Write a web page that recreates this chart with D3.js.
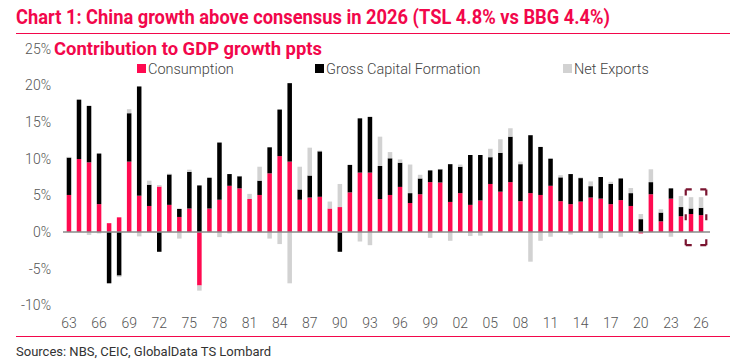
<!DOCTYPE html>
<html>
<head>
<meta charset="utf-8">
<script src="https://cdn.jsdelivr.net/npm/d3@7"></script>
<style>
  body { margin: 0; background: #fff; }
  svg { display: block; font-family: Roboto, "Noto Sans", sans-serif; }
</style>
</head>
<body>
<div id="chart"></div>
<script>
// contribution to GDP growth, ppts, 1963-2026
const years = d3.range(1963, 2027);
const consumption = [5.05, 9.95, 9.5, 3.8, 1.2, 2.0, 9.6, 4.95, 3.55, 6.2,
  3.7, 2.05, 3.2, -7.3, 3.2, 4.4, 6.3, 5.95, 4.5, 5.05,
  8.0, 10.35, 9.6, 4.4, 4.7, 4.8, 3.2, 3.4, 5.4, 8.1,
  8.1, 4.5, 5.05, 6.15, 3.95, 5.15, 6.8, 6.75, 4.1, 5.3,
  3.7, 4.3, 6.55, 5.5, 6.8, 4.2, 5.3, 5.05, 6.3, 4.2,
  3.8, 4.15, 4.7, 4.55, 3.8, 4.35, 3.55, -0.2, 5.15, 1.45,
  4.55, 2.15, 2.45, 2.3];
const capitalFormation = [5.1, 8.1, 7.7, 6.9, -7.0, -5.95, 6.6, 14.9, 2.9, -2.7,
  4.15, 1.1, 5.0, 6.35, 4.2, 7.8, 1.6, 1.65, 0, 1.95,
  3.55, 6.35, 10.7, 1.4, 3.0, 6.2, 0, -2.7, 3.75, 7.4,
  7.6, 4.5, 5.0, 3.3, 1.35, 2.15, 1.6, 1.8, 5.15, 3.6,
  6.8, 6.2, 3.65, 5.3, 6.2, 5.05, 7.9, 6.55, 3.7, 3.25,
  4.1, 3.2, 1.55, 2.95, 2.75, 2.95, 1.75, 1.75, 1.65, 1.2,
  1.4, 1.25, 0.75, 1.0];
const netExports = [0.1, 0, -0.4, -0.2, 0, -0.2, 0.55, -0.6, 0.55, 0.2,
  0.1, -0.9, 0.3, -0.7, 0, -0.7, -0.2, 0.05, 0.7, 1.9,
  -0.9, -1.65, -7.0, 3.1, 3.8, 0.1, 0.95, 3.15, 0, -1.3,
  -1.8, 4.0, 0.85, 0.45, 3.9, 0.5, -0.8, 0.05, -1.2, 0.3,
  -0.55, -0.5, 1.15, 1.85, 1.15, 0.35, -4.05, -1.2, -0.65, 0.3,
  -0.35, 0.1, 0.65, -0.85, 0.3, -0.65, 0.7, 0.7, 1.75, 0.45,
  -0.65, 1.5, 1.55, 1.45];

const seriesKeys = ["Consumption", "Gross Capital Formation", "Net Exports"];
const seriesColors = ["#ff0a50", "#000000", "#d2d2d2"];
const yTicks = [-10, -5, 0, 5, 10, 15, 20, 25];
const xTickYears = [1963, 1966, 1969, 1972, 1975, 1978, 1981, 1984, 1987, 1990, 1993,
  1996, 1999, 2002, 2005, 2008, 2011, 2014, 2017, 2020, 2023, 2026];
const forecastYears = [2025, 2026];

const width = 735, height = 363;
const red = "#f2074b";

const svg = d3.select("#chart").append("svg")
    .attr("width", width)
    .attr("height", height);

const rows = years.map((yr, i) => ({
  year: yr,
  "Consumption": consumption[i],
  "Gross Capital Formation": capitalFormation[i],
  "Net Exports": netExports[i]
}));

const x = d3.scaleBand()
    .domain(years)
    .range([64, 706])
    .paddingInner(0.55)
    .paddingOuter(0.27);

const y = d3.scaleLinear()
    .domain([-10, 25])
    .range([305.3, 48.7]);

const color = d3.scaleOrdinal().domain(seriesKeys).range(seriesColors);

// header
svg.append("text")
    .attr("x", 16).attr("y", 24)
    .attr("fill", red)
    .attr("font-size", 20).attr("font-weight", 700)
    .attr("textLength", 594).attr("lengthAdjust", "spacingAndGlyphs")
    .text("Chart 1: China growth above consensus in 2026 (TSL 4.8% vs BBG 4.4%)");

svg.append("line")
    .attr("x1", 16).attr("x2", 730)
    .attr("y1", 33.5).attr("y2", 33.5)
    .attr("stroke", red).attr("stroke-width", 1.2);

svg.append("text")
    .attr("x", 54).attr("y", 55)
    .attr("fill", red)
    .attr("font-size", 18).attr("font-weight", 700)
    .attr("textLength", 268).attr("lengthAdjust", "spacingAndGlyphs")
    .text("Contribution to GDP growth ppts");

// y axis labels (no axis line)
const yAxis = svg.append("g")
    .attr("transform", "translate(51,0)")
    .call(d3.axisLeft(y).tickValues(yTicks).tickSize(0).tickPadding(0)
      .tickFormat(d => d + "%"));
yAxis.select(".domain").remove();
yAxis.selectAll("text")
    .attr("fill", "#555")
    .attr("font-size", 14)
    .attr("font-weight", 300)
    .attr("font-family", "Roboto, sans-serif");

// x axis labels
const xAxis = svg.append("g")
    .attr("transform", "translate(0,318)")
    .call(d3.axisBottom(x).tickValues(xTickYears).tickSize(0).tickPadding(0)
      .tickFormat(d => String(d).slice(2)));
xAxis.select(".domain").remove();
xAxis.selectAll("text")
    .attr("fill", "#555")
    .attr("font-size", 14)
    .attr("font-weight", 300)
    .attr("font-family", "Roboto, sans-serif");

// legend
const legendX = [137, 315, 563];
const legend = svg.append("g");
seriesKeys.forEach((k, i) => {
  legend.append("rect")
      .attr("x", legendX[i]).attr("y", 64)
      .attr("width", 9).attr("height", 9)
      .attr("fill", color(k));
  legend.append("text")
      .attr("x", legendX[i] + 11).attr("y", 74)
      .attr("fill", "#444")
      .attr("font-size", 14.5)
      .attr("font-weight", 300)
      .text(k);
});

// stacked bars
const stack = d3.stack()
    .keys(seriesKeys)
    .offset(d3.stackOffsetDiverging);
const stacked = stack(rows);

svg.append("g")
  .selectAll("g")
  .data(stacked)
  .join("g")
    .attr("fill", d => color(d.key))
  .selectAll("rect")
  .data(d => d)
  .join("rect")
    .attr("x", d => x(d.data.year))
    .attr("width", x.bandwidth())
    .attr("y", d => y(Math.max(d[0], d[1])))
    .attr("height", d => Math.abs(y(d[0]) - y(d[1])));

// zero line
svg.append("line")
    .attr("x1", 63).attr("x2", 710)
    .attr("y1", y(0)).attr("y2", y(0))
    .attr("stroke", "#8a8a8a").attr("stroke-width", 1.3);

// forecast box, drawn side by side so every corner gets a dash
const bx0 = x(forecastYears[0]) - 3;
const bx1 = x(forecastYears[1]) + x.bandwidth() + 3;
const by0 = y(5.8), by1 = y(-1.8);
const sides = [
  [bx0, by0, bx1, by0, 2],
  [bx0, by1, bx1, by1, 2],
  [bx0, by0, bx0, by1, 3],
  [bx1, by0, bx1, by1, 3]
];
const dashLen = 6;
svg.append("g")
  .selectAll("line")
  .data(sides)
  .join("line")
    .attr("x1", d => d[0]).attr("y1", d => d[1])
    .attr("x2", d => d[2]).attr("y2", d => d[3])
    .attr("stroke", "#7a1430").attr("stroke-width", 2.2)
    .attr("stroke-dasharray", d => {
      const len = Math.hypot(d[2] - d[0], d[3] - d[1]);
      const gap = (len - d[4] * dashLen) / (d[4] - 1);
      return dashLen + "," + gap;
    });

// footer
svg.append("line")
    .attr("x1", 16).attr("x2", 730)
    .attr("y1", 336.5).attr("y2", 336.5)
    .attr("stroke", red).attr("stroke-width", 1.2);

svg.append("text")
    .attr("x", 16).attr("y", 356)
    .attr("fill", "#333")
    .attr("font-size", 13)
    .text("Sources: NBS, CEIC, GlobalData TS Lombard");
</script>
</body>
</html>
